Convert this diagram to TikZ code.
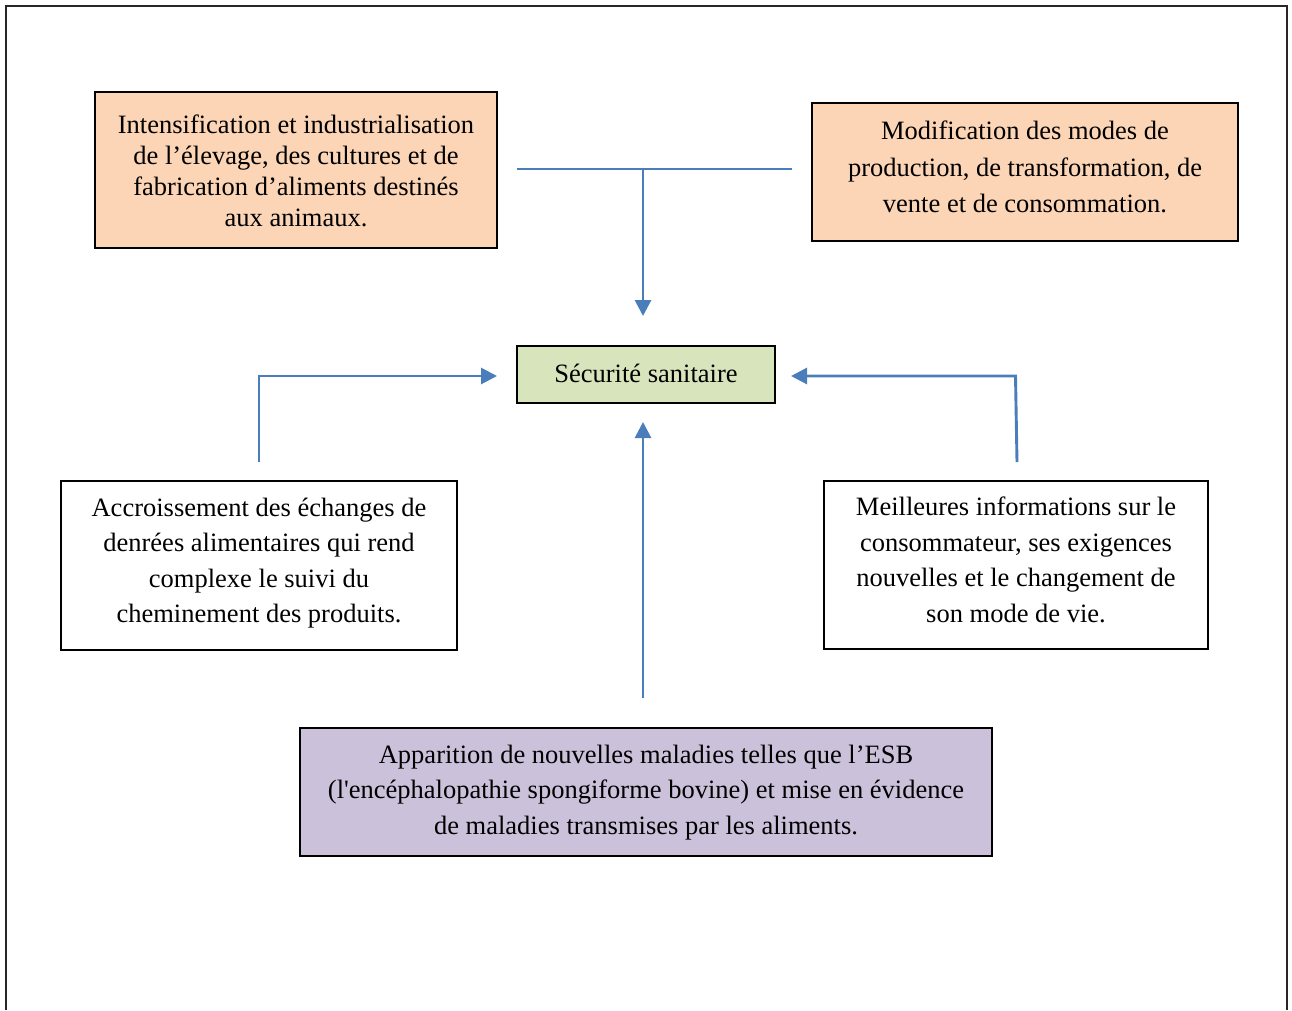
\documentclass[tikz,border=0pt]{standalone}
\usepackage{fontspec}
\setmainfont{Liberation Serif}
\usetikzlibrary{arrows.meta}
\definecolor{peach}{HTML}{FBD5B5}
\definecolor{sage}{HTML}{D7E4BC}
\definecolor{lilac}{HTML}{CCC1DA}
\definecolor{linkblue}{HTML}{4A7EBB}
\begin{document}
\begin{tikzpicture}[x=1pt,y=-1pt,
  box/.style={draw=black, line width=1.8pt, inner sep=0pt},
  txt/.style={align=center, inner sep=0pt, font=\fontsize{26.5}{35.5}\selectfont},
  link/.style={draw=linkblue, line width=2.9pt},
  tip/.style={-{Triangle[length=16pt,width=16pt]}}]
  \useasboundingbox (0,0) rectangle (1292,1010);
  % page frame, open at the bottom
  \draw[line width=1.2pt, black!85] (6,1010) -- (6,6) -- (1287,6) -- (1287,1010);

  % boxes
  \node[box, fill=peach, minimum width=402pt, minimum height=156pt] (intens) at (296,170) {};
  \node[box, fill=peach, minimum width=426pt, minimum height=138pt] (modif) at (1025,172) {};
  \node[box, fill=sage, minimum width=258pt, minimum height=57pt] (secu) at (646,374.5) {};
  \node[box, fill=white, minimum width=396pt, minimum height=169pt] (accr) at (259,565.5) {};
  \node[box, fill=white, minimum width=384pt, minimum height=168pt] (meil) at (1016,565) {};
  \node[box, fill=lilac, minimum width=692pt, minimum height=128pt] (appar) at (646,792) {};

  % texts
  \node[txt, font=\fontsize{26.5}{31}\selectfont] (intens-t) at ([yshift=-1pt]intens.center)
    {Intensification et industrialisation\\de l’élevage, des cultures et de\\fabrication d’aliments destinés\\aux animaux.};
  \node[txt, font=\fontsize{26.5}{36.5}\selectfont] (modif-t) at ([yshift=5pt]modif.center)
    {Modification des modes de\\production, de transformation, de\\vente et de consommation.};
  \node[txt] (secu-t) at ([yshift=1pt]secu.center) {Sécurité sanitaire};
  \node[txt] (accr-t) at ([yshift=2.5pt]accr.center)
    {Accroissement des échanges de\\denrées alimentaires qui rend\\complexe le suivi du\\cheminement des produits.};
  \node[txt] (meil-t) at ([yshift=5pt]meil.center)
    {Meilleures informations sur le\\consommateur, ses exigences\\nouvelles et le changement de\\son mode de vie.};
  \node[txt] (appar-t) at ([yshift=-0.5pt]appar.center)
    {Apparition de nouvelles maladies telles que l’ESB\\(l\textquotesingle encéphalopathie spongiforme bovine) et mise en évidence\\de maladies transmises par les aliments.};

  % connector end points
  \coordinate (topL) at (517,169);
  \coordinate (topR) at (792,169);
  \coordinate (topJ) at (643,169);
  \coordinate (topTip) at (643,316);
  \coordinate (leftFoot) at (259,462);
  \coordinate (leftKnee) at (259,376);
  \coordinate (leftTip) at (497,376);
  \coordinate (rightFoot) at (1017,462);
  \coordinate (rightKnee) at (1015.5,376);
  \coordinate (rightTip) at (791,376);
  \coordinate (botFoot) at (643,698);
  \coordinate (botTip) at (643,422);

  % connectors
  \draw[link] (topL) -- (topR);
  \draw[link, tip] (topJ) -- (topTip);
  \draw[link, tip] (leftFoot) -- (leftKnee) -- (leftTip);
  \draw[link, tip] (rightFoot) -- (rightKnee) -- (rightTip);
  \draw[link, tip] (botFoot) -- (botTip);
\end{tikzpicture}
\end{document}
